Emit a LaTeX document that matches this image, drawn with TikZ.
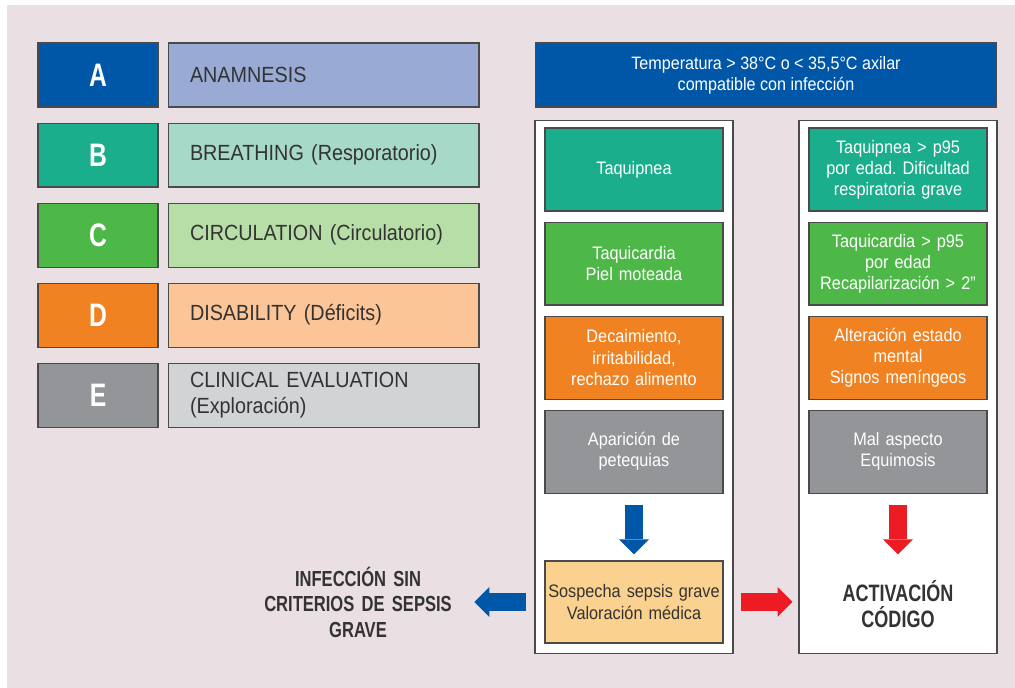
\documentclass[tikz,border=0pt]{standalone}
\usepackage{fontspec}
\setmainfont{Liberation Sans}[FakeStretch=0.9]
\newfontfamily\condfont{Liberation Sans}[FakeStretch=0.76]
\usepackage{tikz}
\usetikzlibrary{arrows.meta,positioning}
\frenchspacing
\definecolor{pagepink}{HTML}{EADFE3}
\definecolor{edgegrey}{HTML}{4A4A4A}
\definecolor{inkgrey}{HTML}{333333}
\definecolor{navybox}{HTML}{0057A8}
\definecolor{lilacbox}{HTML}{99AAD5}
\definecolor{tealbox}{HTML}{1AAE8C}
\definecolor{paletealbox}{HTML}{A6D9C7}
\definecolor{greenbox}{HTML}{4DB848}
\definecolor{palegreenbox}{HTML}{B7DEA6}
\definecolor{orangebox}{HTML}{F08221}
\definecolor{paleorangebox}{HTML}{FBC597}
\definecolor{greybox}{HTML}{939598}
\definecolor{palegreybox}{HTML}{D1D3D4}
\definecolor{sandbox}{HTML}{FBD18F}
\definecolor{alertred}{HTML}{ED1C24}
\tikzset{
  letterbox/.style={
    rectangle, draw=edgegrey, line width=0.6pt, fill=#1,
    minimum width=2.4cm, minimum height=1.28cm,
    text=white, font=\condfont\bfseries\fontsize{18.5}{20}\selectfont
  },
  labelbox/.style={
    rectangle, draw=edgegrey, line width=0.6pt, fill=#1,
    minimum height=1.28cm, inner xsep=0.44cm, text width=5.34cm,
    align=left, text=inkgrey, font=\fontsize{12.5}{14.7}\selectfont
  },
  headerbox/.style={
    rectangle, draw=edgegrey, line width=0.6pt, fill=navybox,
    minimum width=9.24cm, minimum height=1.28cm, align=center,
    text=white, font=\fontsize{10.2}{12}\selectfont
  },
  panel/.style={
    rectangle, draw=edgegrey, line width=0.6pt, fill=white,
    minimum width=3.96cm, minimum height=10.68cm
  },
  symptombox/.style={
    rectangle, draw=edgegrey, line width=0.6pt, fill=#1,
    minimum height=1.66cm, inner xsep=0.08cm, text width=3.4cm,
    align=center, text=white, font=\fontsize{10.3}{12}\selectfont
  },
  outcome/.style={
    align=center, inner sep=0pt, text=inkgrey,
    font=\condfont\bfseries\fontsize{#1}{14.5}\selectfont
  },
  blockarrow/.style={
    draw=#1, line width=0.36cm,
    -{Triangle[length=0.3cm, width=0.6cm, line width'=0pt]}
  }
}
\begin{document}
\begin{tikzpicture}[x=0.02cm, y=-0.02cm]
\useasboundingbox (0,0) rectangle (1015,688);
\fill[pagepink] (7,5) rectangle (1015,688);

\node[letterbox=navybox] (a) at (98,75) {A};
\node[letterbox=tealbox, below=0.3cm of a] (b) {B};
\node[letterbox=greenbox, below=0.3cm of b] (c) {C};
\node[letterbox=orangebox, below=0.3cm of c] (d) {D};
\node[letterbox=greybox, below=0.3cm of d] (e) {E};
\node[labelbox=lilacbox, right=0.18cm of a] (anamnesis) {ANAMNESIS};
\node[labelbox=paletealbox, right=0.18cm of b] (breathing) {BREATHING (Resporatorio)};
\node[labelbox=palegreenbox, right=0.18cm of c] (circulation) {CIRCULATION (Circulatorio)};
\node[labelbox=paleorangebox, right=0.18cm of d] (disability) {DISABILITY (Déficits)};
\node[labelbox=palegreybox, right=0.18cm of e] (evaluation) {CLINICAL EVALUATION\\(Exploración)};

\node[headerbox] (fiebre) at (766,75) {Temperatura > 38°C o < 35,5°C axilar\\compatible con infección};
\node[panel] (leftpanel) at (634,387) {};
\node[panel] (rightpanel) at (898,387) {};

\node[symptombox=tealbox] (taquipnea) at (634,169.5) {Taquipnea};
\node[symptombox=greenbox, below=0.2cm of taquipnea] (taquicardia) {Taquicardia\\Piel moteada};
\node[symptombox=orangebox, below=0.2cm of taquicardia] (decaimiento) {Decaimiento,\\irritabilidad,\\rechazo alimento};
\node[symptombox=greybox, below=0.2cm of decaimiento] (petequias) {Aparición de\\petequias};
\node[symptombox=sandbox, text=inkgrey, minimum height=1.64cm, inner xsep=0.03cm, text width=3.5cm] (sospecha) at (634,602) {Sospecha sepsis grave\\Valoración médica};

\node[symptombox=tealbox] (taquipneagrave) at (898,169.5) {Taquipnea > p95\\por edad. Dificultad\\respiratoria grave};
\node[symptombox=greenbox, below=0.2cm of taquipneagrave] (taquicardiagrave) {Taquicardia > p95\\por edad\\Recapilarización > 2”};
\node[symptombox=orangebox, below=0.2cm of taquicardiagrave] (alteracion) {Alteración estado\\mental\\Signos meníngeos};
\node[symptombox=greybox, below=0.2cm of alteracion] (malaspecto) {Mal aspecto\\Equimosis};

\node[outcome=13.5] (activacion) at (898,604) {ACTIVACIÓN\\CÓDIGO};
\node[outcome=12.4, text width=3.8cm] (infeccion) at (358,602) {INFECCIÓN SIN\\CRITERIOS DE SEPSIS\\GRAVE};

\draw[blockarrow=navybox, shorten <=0.22cm, shorten >=0.12cm] (petequias) -- (sospecha);
\draw[blockarrow=alertred, shorten <=0.22cm, shorten >=0.12cm] (malaspecto) -- (malaspecto |- sospecha.north);
\draw[blockarrow=alertred, shorten <=0.34cm, shorten >=0.12cm] (sospecha) -- (sospecha -| rightpanel.west);
\draw[blockarrow=navybox, shorten <=0.36cm, shorten >=0.42cm] (sospecha) -- (infeccion);
\end{tikzpicture}
\end{document}
